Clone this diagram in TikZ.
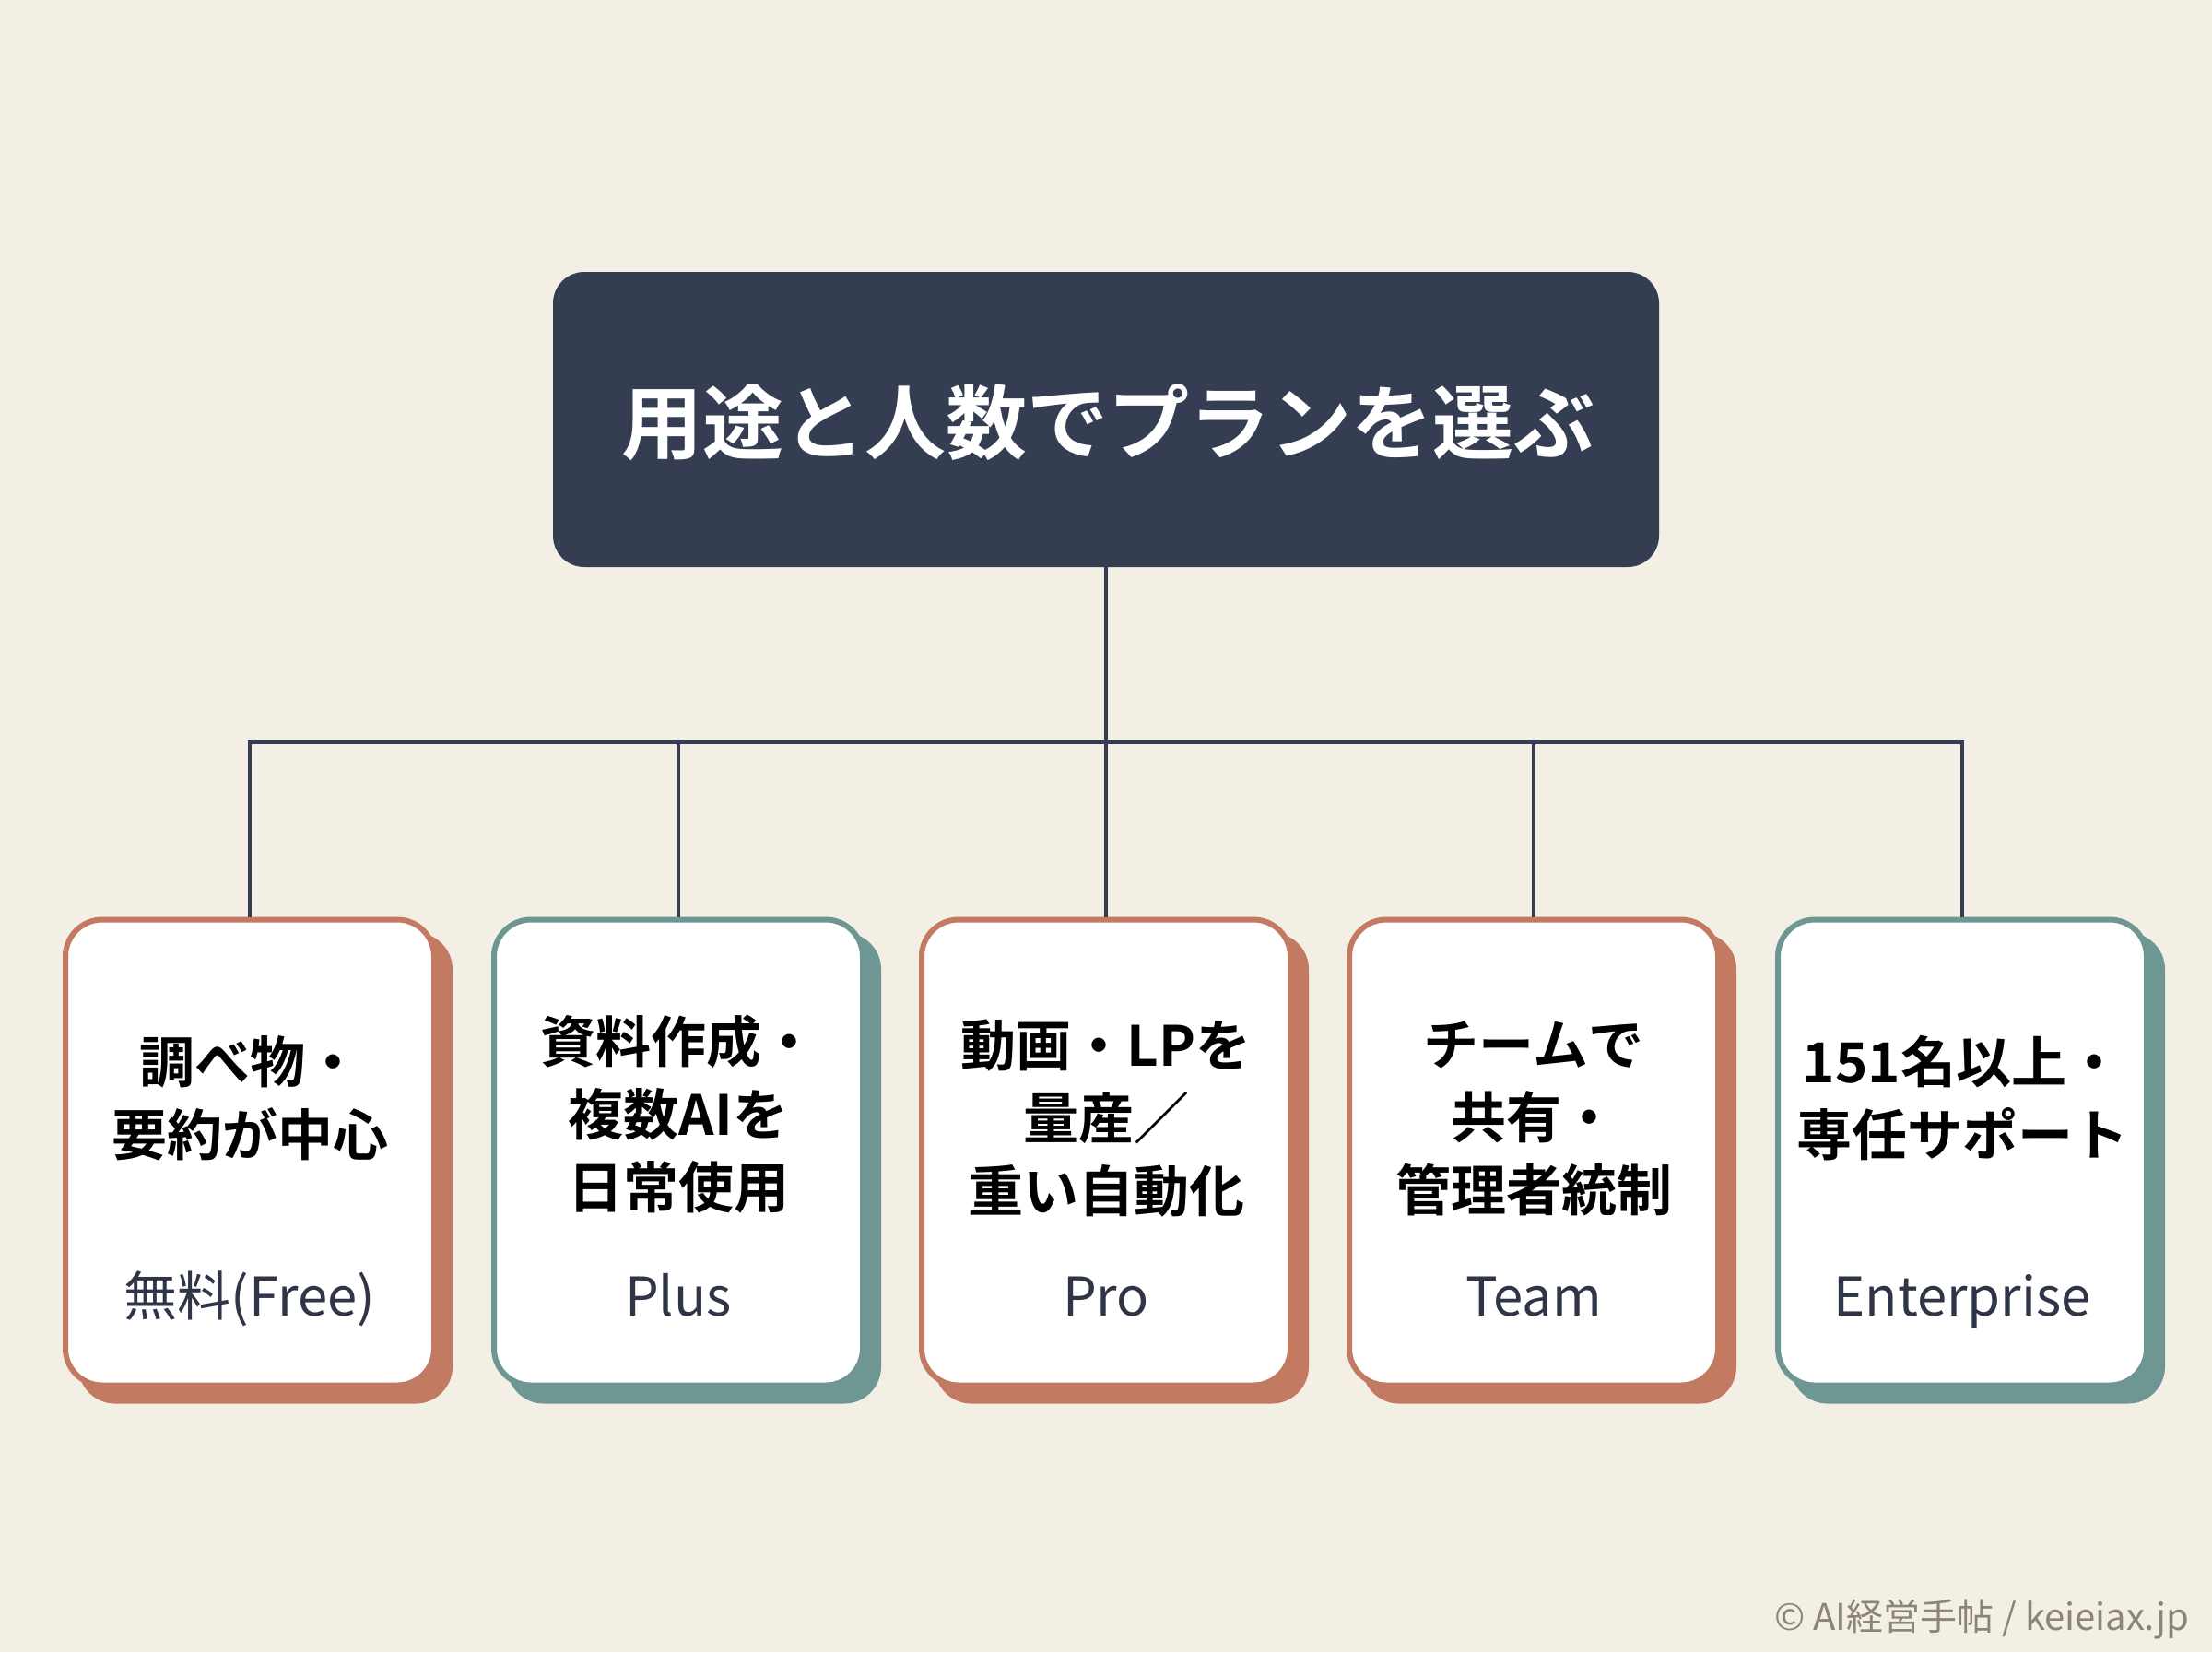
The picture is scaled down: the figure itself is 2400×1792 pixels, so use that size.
\documentclass[tikz,border=0pt]{standalone}
\usepackage{fontspec}
\setmainfont{Noto Sans CJK JP}[BoldFont={Noto Sans CJK JP Bold}]
\definecolor{bg}{HTML}{F4EFE4}
\definecolor{navy}{HTML}{343D52}
\definecolor{rust}{HTML}{C27A62}
\definecolor{teal}{HTML}{6E9693}
\definecolor{slate}{HTML}{2F3547}
\definecolor{wm}{HTML}{8A847A}
\tikzset{
  titlebox/.style={fill=navy, rounded corners=34pt, minimum width=1200pt, minimum height=320pt, inner sep=0pt},
  planbox/.style={fill=white, draw=#1, line width=6pt, rounded corners=40pt, minimum width=400pt, minimum height=505pt, inner sep=0pt},
  planshadow/.style={fill=#1, rounded corners=40pt, minimum width=406pt, minimum height=511pt, inner sep=0pt},
  maintext/.style={font=\bfseries\fontsize{60}{79}\selectfont, text=black, align=center, inner sep=0pt},
  plantext/.style={font=\fontsize{58}{70}\selectfont, text=slate, inner sep=0pt, anchor=base},
  conn/.style={draw=navy, line width=3.5pt}
}
\begin{document}
\begin{tikzpicture}[x=1pt,y=-1pt]
\useasboundingbox[fill=bg] (0,0) rectangle (2400,1792);
% title
\node[titlebox] (top) at (1200,455) {};
\node[font=\bfseries\fontsize{88}{100}\selectfont, text=white, inner sep=0pt] (title) at (1202,458) {用途と人数でプランを選ぶ};
% junction
\coordinate (j) at (1200,805);
% shadows
\foreach \x/\c [count=\i] in {271/rust,736/teal,1200/rust,1664/rust,2129/teal}{
  \node[planshadow=\c] (s\i) at (\x+17,1267) {};
}
% connectors
\draw[conn] (top.south) -- (j);
% boxes
\node[planbox=rust] (b1) at (271,1250) {};
\node[planbox=teal] (b2) at (736,1250) {};
\node[planbox=rust] (b3) at (1200,1250) {};
\node[planbox=rust] (b4) at (1664,1250) {};
\node[planbox=teal] (b5) at (2129,1250) {};
\draw[conn] (b1.north) |- (j) -| (b5.north);
\draw[conn] (b2.north) -- (b2.north |- j);
\draw[conn] (b3.north) -- (j);
\draw[conn] (b4.north) -- (b4.north |- j);
% texts
\node[maintext] (t1) at (271,1191) {調べ物・\\要約が中心};
\node[maintext] (t2) at (736,1209) {資料作成・\\複数AIを\\日常使用};
\node[maintext] (t3) at (1200,1213) {動画・LPを\\量産／\\重い自動化};
\node[maintext] (t4) at (1664,1213) {チームで\\共有・\\管理者統制};
\node[maintext] (t5) at (2129,1191) {151名以上・\\専任サポート};
\node[plantext] (p1) at (271,1427) {無料(Free)};
\node[plantext] (p2) at (736,1427) {Plus};
\node[plantext] (p3) at (1200,1427) {Pro};
\node[plantext] (p4) at (1664,1427) {Team};
\node[plantext] (p5) at (2129,1427) {Enterprise};
% watermark
\node[font=\fontsize{40}{48}\selectfont, text=wm, anchor=east, inner sep=0pt] (wmk) at (2375,1756) {© AI経営手帖 / keieiax.jp};
\end{tikzpicture}
\end{document}
